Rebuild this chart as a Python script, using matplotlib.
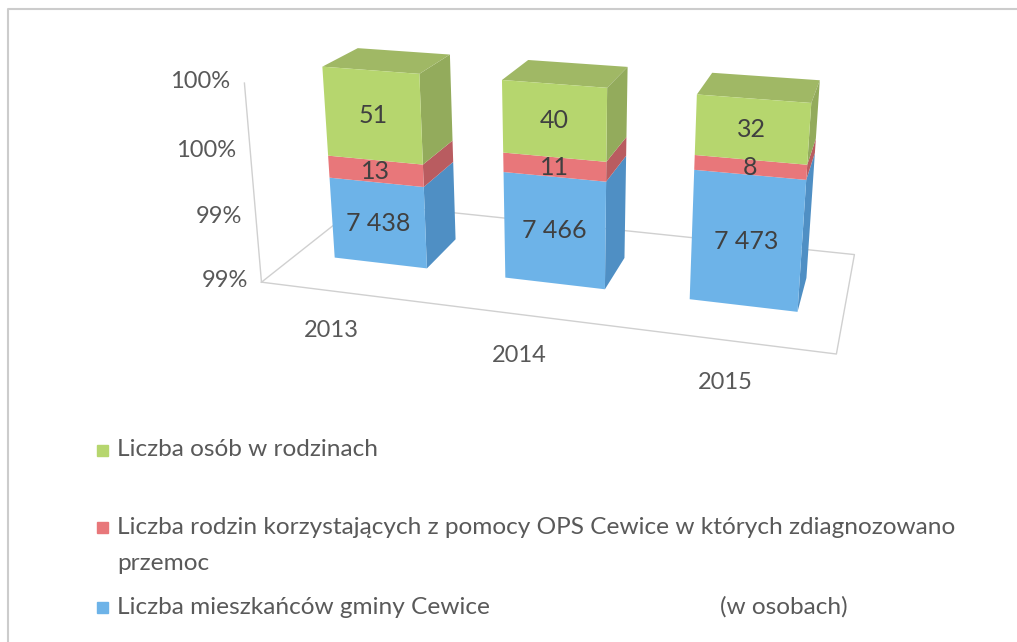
import numpy as np
import matplotlib.pyplot as plt
from matplotlib.patches import Rectangle
from matplotlib.lines import Line2D

# data (values in persons)
years = ['2013', '2014', '2015']
mieszkancy = [7438, 7466, 7473]
rodziny = [13, 11, 8]
osoby = [51, 40, 32]
tick_values = [0.985, 0.990, 0.995, 1.000]
tick_labels = ['99%', '99%', '100%', '100%']
legend_names = ['Liczba osób w rodzinach',
                'Liczba rodzin korzystających z pomocy OPS Cewice w których zdiagnozowano',
                'Liczba mieszkańców gminy Cewice']

# colours: (front, side, top)
blue = ('#6db3e8', '#4f8fc4', '#5a9fd6')
red = ('#e8777a', '#b95c60', '#c96a6c')
green = ('#b6d66e', '#93ab5c', '#a0b865')
legend_cols = ['#b6d66e', '#e8777a', '#6db3e8']

plt.rcParams['font.family'] = ['Lato', 'DejaVu Sans']

fig = plt.figure(figsize=(10.17, 6.42), dpi=100)
ax = fig.add_axes([0.1506, 0.391, 0.8, 0.66], projection='3d', computed_zorder=False)
ax.set_proj_type('persp', focal_length=0.55)
ax.view_init(elev=19, azim=-74)
ax.set_box_aspect((2.75, 1.15, 1.0), zoom=1.48)
zmin, zmax = tick_values[0], tick_values[-1]
ax.set_xlim(0, 3)
ax.set_ylim(0, 1)
ax.set_zlim(zmin, zmax)
ax.set_axis_off()

# floor outline and vertical axis
ax.plot([0, 3, 3, 0, 0], [0, 0, 1, 1, 0], [zmin] * 5, color='#d0d0d0', lw=1,
        zorder=1, clip_on=False)
ax.plot([0, 0], [0, 0], [zmin, zmax], color='#d0d0d0', lw=1, zorder=1, clip_on=False)
for v, lab in zip(tick_values, tick_labels):
    ax.text(-0.08, 0, v, lab, ha='right', va='center', fontsize=17, color='#595959', zorder=2)

totals = np.array(mieszkancy) + np.array(rodziny) + np.array(osoby)
segments = [(mieszkancy, blue), (rodziny, red), (osoby, green)]
bw, bd, by = 0.55, 0.35, 0.33
none = (0, 0, 0, 0)
year_z = zmin - (zmax - zmin) * 0.085
for i, yr in enumerate(years):
    x0 = i + 0.5 - bw / 2
    bottom = zmin
    cum = 0
    for k, (vals, cols) in enumerate(segments):
        cum += vals[i]
        top = cum / totals[i]
        is_top = k == len(segments) - 1
        fc = [none, cols[2] if is_top else none, cols[0], none, none, cols[1]]
        poly = ax.bar3d(x0, by, bottom, bw, bd, top - bottom, color=fc, shade=False,
                        edgecolor='none', linewidth=0)
        poly.set_zorder(3 + k)
        poly.set_clip_on(False)
        lab = f'{vals[i]:,}'.replace(',', ' ')
        ax.text(i + 0.5, by, (bottom + top) / 2, lab, ha='center', va='center',
                fontsize=18, color='#404040', zorder=10)
        bottom = top
    ax.text(i + 0.52, -0.2, year_z, yr, ha='center', va='center', fontsize=17,
            color='#595959', zorder=2)

# legend
W, H = 1017, 642
leg_y = [450, 527, 607]
for name, col, yy in zip(legend_names, legend_cols, leg_y):
    fig.patches.append(Rectangle((97 / W, 1 - (yy + 6) / H), 11 / W, 11 / H,
                                 transform=fig.transFigure, color=col))
    fig.text(117 / W, 1 - yy / H, name, ha='left', va='center', fontsize=17.6,
             color='#595959')
fig.text(117 / W, 1 - 563 / H, 'przemoc', ha='left', va='center', fontsize=17.6,
         color='#595959')
fig.text(720 / W, 1 - 607 / H, '(w osobach)', ha='left', va='center', fontsize=17.6,
         color='#595959')

# outer frame (left and top edges)
fig.lines.append(Line2D([8 / W, 8 / W, 1.0], [0.0, 1 - 9 / H, 1 - 9 / H],
                        transform=fig.transFigure, color='#cccccc', lw=1.5))

fig.savefig('out.png', dpi=100)
